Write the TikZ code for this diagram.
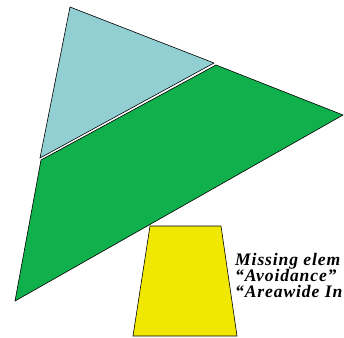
\documentclass[tikz,border=0pt]{standalone}
\usepackage{fontspec}
\setmainfont{Liberation Serif}
\newfontfamily\remarkfont[LetterSpace=5]{Liberation Serif}
\usepackage{tikz}
\usetikzlibrary{positioning}
\definecolor{paleblue}{RGB}{146,207,210}
\definecolor{leafgreen}{RGB}{16,176,76}
\definecolor{lemon}{RGB}{240,232,0}
\tikzset{
  piece/.style={
    draw = black,
    line width = 0.6pt,
    line join = miter
  },
  remark/.style={
    anchor = base west,
    inner sep = 0pt,
    font = \remarkfont\fontsize{17.6}{16}\selectfont\bfseries\itshape
  }
}
\begin{document}
\begin{tikzpicture}[x=1pt,y=-1pt]
    \useasboundingbox (0,0) rectangle (344,337);
    % green lower part of the big triangle
    \draw[piece,fill=leafgreen] (41,160) -- (216,65) -- (343,115) -- (15,301) -- cycle;
    % blue tip
    \draw[piece,fill=paleblue] (70,7) -- (214,63) -- (40,158) -- cycle;
    % yellow base
    \draw[piece,fill=lemon] (150,226) -- (221,226) -- (237,336) -- (133,336) -- cycle;
    \node[remark] (missing) at (235,265) {Missing elem};
    \node[remark] (avoid) at (235,281) {“Avoidance”};
    \node[remark] (area) at (235,297) {“Areawide In};
\end{tikzpicture}
\end{document}
